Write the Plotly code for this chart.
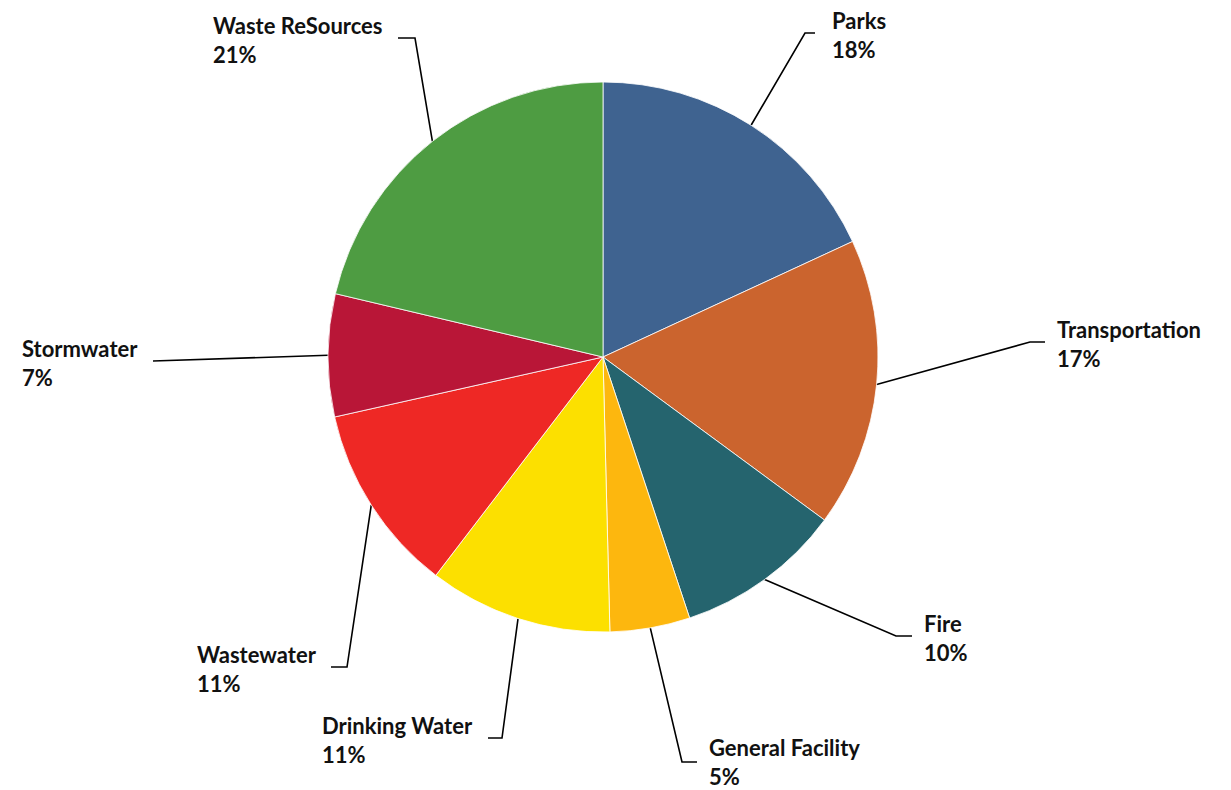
import math
import plotly.graph_objects as go

# ---- data ----
categories = ["Parks", "Transportation", "Fire", "General Facility",
              "Drinking Water", "Wastewater", "Stormwater", "Waste ReSources"]
values = [18.1, 17.0, 9.8, 4.7, 10.8, 11.1, 7.2, 21.3]
colors = ["#3F6390", "#CB642E", "#25646E", "#FDB70E",
          "#FCE000", "#EE2825", "#B91637", "#4E9C42"]

# ---- layout (pixel space) ----
W, H = 1231, 790
CX, CY, R = 603, 357, 275
# elbow point, end of horizontal segment, label anchor x, anchor side
elbows = [(805, 33), (1030, 342), (896, 636), (682, 762),
          (502, 738), (347, 667), (160, 361), (415, 38)]
seg_end_x = [815, 1045, 912, 697, 488, 331, 153, 398]
label_x = [830, 1055, 922, 707, 475, 319, 140, 385]
label_dy = [2, 2, 2, 0, 2, 2, 2, 2]
label_side = ["left", "left", "left", "left", "right", "right", "right", "right"]

FONT = "Lato"

fig = go.Figure()
fig.add_trace(go.Pie(
    labels=categories, values=values, sort=False, direction="clockwise",
    rotation=0, marker=dict(colors=colors, line=dict(color="white", width=0.8)),
    textinfo="none", hoverinfo="label+percent", showlegend=False,
    domain=dict(x=[(CX - R) / W, (CX + R) / W],
                y=[(H - CY - R) / H, (H - CY + R) / H]),
))

total = sum(values)
cum = 0.0
annotations = []
for i, (cat, v) in enumerate(zip(categories, values)):
    mid = (cum + v / 2) / total * 2 * math.pi
    cum += v
    sx = CX + R * math.sin(mid)
    sy = CY - R * math.cos(mid)
    ex, ey = elbows[i]
    fig.add_trace(go.Scatter(
        x=[sx, ex, seg_end_x[i]], y=[sy, ey, ey], mode="lines",
        line=dict(color="black", width=1.6), hoverinfo="skip", showlegend=False,
        xaxis="x", yaxis="y"))
    pct = round(v / total * 100)
    annotations.append(dict(
        x=label_x[i], y=ey + label_dy[i], xref="x", yref="y",
        text=f"<b>{cat}<br>{pct}%</b>", showarrow=False,
        xanchor=label_side[i], yanchor="middle", align="left",
        font=dict(family=FONT, size=22, color="#111111")))

fig.update_layout(
    width=W, height=H, margin=dict(l=0, r=0, t=0, b=0),
    paper_bgcolor="white", plot_bgcolor="rgba(0,0,0,0)",
    xaxis=dict(range=[0, W], visible=False, fixedrange=True, domain=[0, 1]),
    yaxis=dict(range=[H, 0], visible=False, fixedrange=True, domain=[0, 1]),
    annotations=annotations,
)

fig.write_html("out.html",
               config={"displayModeBar": False},
               post_script="document.body.style.margin='0';"
                           "document.body.style.overflow='hidden';")
